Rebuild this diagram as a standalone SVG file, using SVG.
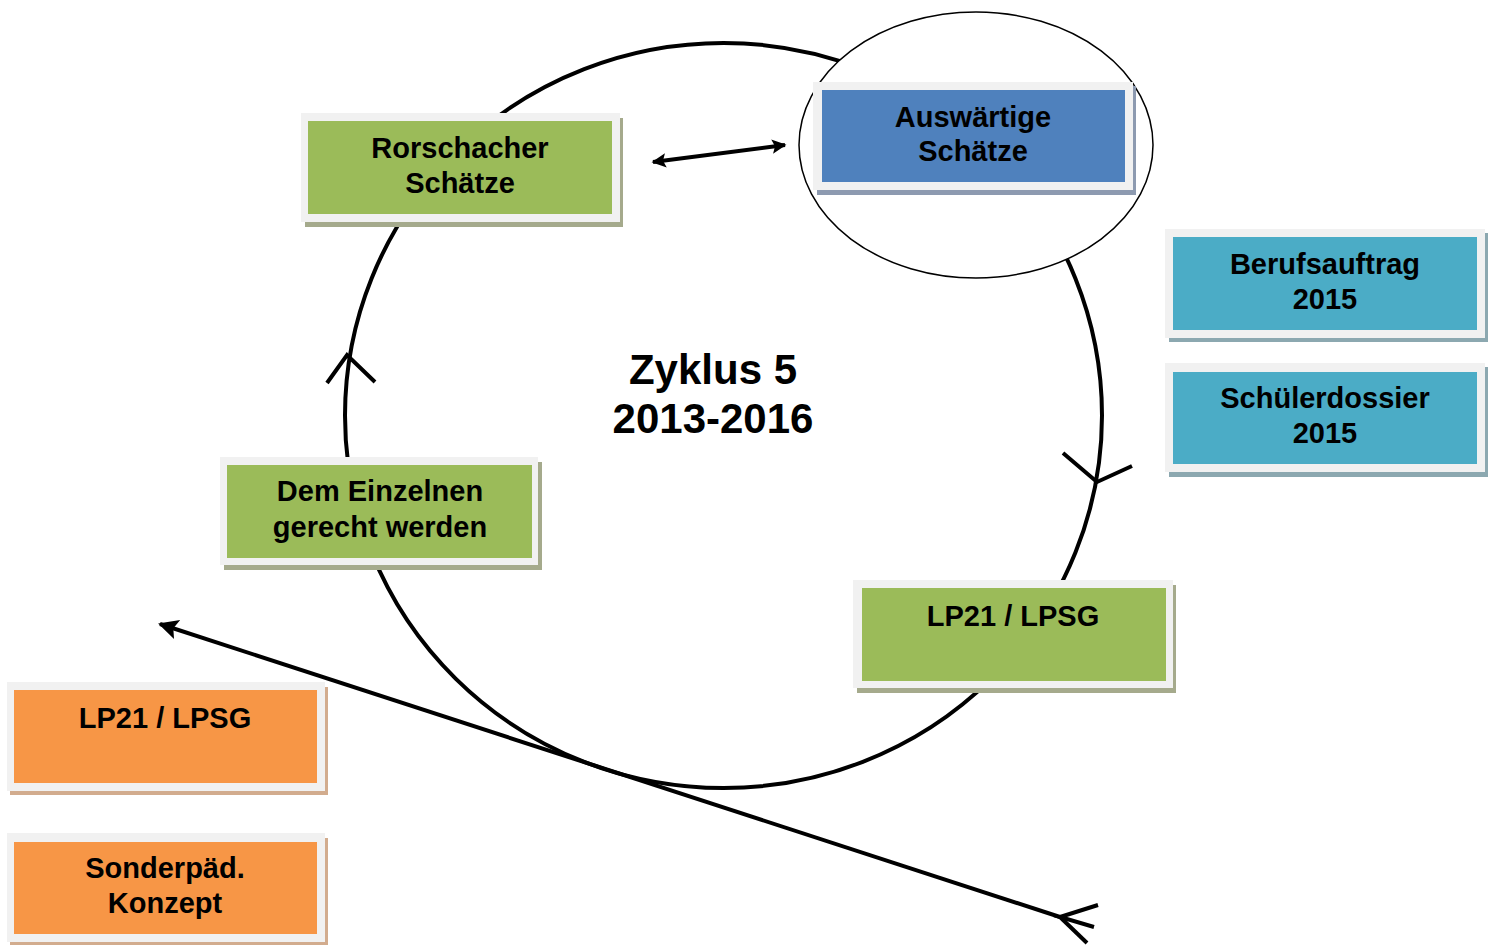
<svg xmlns="http://www.w3.org/2000/svg" width="1493" height="945" viewBox="0 0 1493 945">
  <style>
    .frame { fill: #f1f1f1; }
    .lbl { font-family: "Liberation Sans", Arial, sans-serif; font-weight: bold; font-size: 29px; fill: #000; text-anchor: middle; }
    .title { font-family: "Liberation Sans", Arial, sans-serif; font-weight: bold; font-size: 42px; fill: #000; text-anchor: middle; }
    .green { fill: #9bbb59; }
    .green-sh { fill: #a5aa8c; }
    .blue { fill: #4f81bd; }
    .blue-sh { fill: #8d9ab0; }
    .teal { fill: #4bacc6; }
    .teal-sh { fill: #8ca8b0; }
    .orange { fill: #f79646; }
    .orange-sh { fill: #d2ac8e; }
    .line { fill: none; stroke: #000; stroke-width: 4; stroke-linecap: butt; }
  </style>
  <defs>
    <marker id="head" viewBox="0 0 10 10" refX="9" refY="5" markerWidth="4" markerHeight="3.6" orient="auto-start-reverse" markerUnits="strokeWidth">
      <path d="M0,0 L10,5 L0,10 L2,5 z" fill="#000"/>
    </marker>
    <marker id="bighead" viewBox="0 0 10 10" refX="9" refY="5" markerWidth="5" markerHeight="5.8" orient="auto" markerUnits="strokeWidth">
      <path d="M0,0 L10,5 L0,10 L2,5 z" fill="#000"/>
    </marker>
  </defs>

  <rect width="1493" height="945" fill="#fff"/>

  <!-- cycle ring -->
  <g id="cycle">
    <ellipse cx="723.5" cy="415.5" rx="378.5" ry="372.5" class="line"/>
    <polyline points="327,383 347,355 375,382" class="line"/>
    <polyline points="1063,453 1097,482 1132,466" class="line"/>
  </g>

  <!-- ring around the external node -->
  <g id="halo">
    <ellipse cx="976" cy="145" rx="177" ry="133" fill="#fff" stroke="#000" stroke-width="1.5"/>
  </g>

  <g id="center-title">
    <text x="713" y="384" class="title">Zyklus 5</text>
    <text x="713" y="433" class="title">2013-2016</text>
  </g>

  <!-- nodes -->
  <g id="rorschacher">
    <rect x="305" y="118" width="318" height="109" class="green-sh"/>
    <rect x="301" y="113" width="319" height="109" class="frame"/>
    <rect x="308" y="121" width="304" height="93" class="green"/>
    <text x="460" y="158" class="lbl">Rorschacher</text>
    <text x="460" y="193" class="lbl">Schätze</text>
  </g>

  <g id="auswaertige">
    <rect x="817" y="86" width="319" height="109" class="blue-sh"/>
    <rect x="813" y="82" width="320" height="108" class="frame"/>
    <rect x="822" y="90" width="303" height="92" class="blue"/>
    <text x="973" y="127" class="lbl">Auswärtige</text>
    <text x="973" y="161" class="lbl">Schätze</text>
  </g>

  <g id="berufsauftrag">
    <rect x="1169" y="233" width="319" height="109" class="teal-sh"/>
    <rect x="1165" y="229" width="320" height="109" class="frame"/>
    <rect x="1173" y="237" width="304" height="93" class="teal"/>
    <text x="1325" y="274" class="lbl">Berufsauftrag</text>
    <text x="1325" y="309" class="lbl">2015</text>
  </g>

  <g id="schuelerdossier">
    <rect x="1169" y="367" width="319" height="110" class="teal-sh"/>
    <rect x="1165" y="363" width="320" height="109" class="frame"/>
    <rect x="1173" y="372" width="304" height="92" class="teal"/>
    <text x="1325" y="408" class="lbl">Schülerdossier</text>
    <text x="1325" y="443" class="lbl">2015</text>
  </g>

  <g id="einzelnen">
    <rect x="224" y="462" width="318" height="108" class="green-sh"/>
    <rect x="220" y="457" width="318" height="108" class="frame"/>
    <rect x="227" y="465" width="305" height="93" class="green"/>
    <text x="380" y="501" class="lbl">Dem Einzelnen</text>
    <text x="380" y="537" class="lbl">gerecht werden</text>
  </g>

  <g id="lp21-green">
    <rect x="857" y="585" width="319" height="108" class="green-sh"/>
    <rect x="853" y="580" width="320" height="108" class="frame"/>
    <rect x="862" y="588" width="304" height="93" class="green"/>
    <text x="1013" y="626" class="lbl">LP21 / LPSG</text>
  </g>

  <g id="lp21-orange">
    <rect x="10" y="687" width="318" height="108" class="orange-sh"/>
    <rect x="7" y="682" width="318" height="109" class="frame"/>
    <rect x="14" y="690" width="303" height="93" class="orange"/>
    <text x="165" y="728" class="lbl">LP21 / LPSG</text>
  </g>

  <g id="sonderpaed">
    <rect x="10" y="838" width="318" height="107" class="orange-sh"/>
    <rect x="7" y="833" width="318" height="109" class="frame"/>
    <rect x="14" y="842" width="303" height="92" class="orange"/>
    <text x="165" y="878" class="lbl">Sonderpäd.</text>
    <text x="165" y="913" class="lbl">Konzept</text>
  </g>

  <!-- connectors -->
  <g id="connectors">
    <line x1="653" y1="162" x2="785" y2="145" class="line" marker-start="url(#head)" marker-end="url(#head)"/>
    <line x1="1060" y1="917" x2="160" y2="624" class="line" marker-end="url(#bighead)"/>
    <polyline points="1098,905 1060,917 1094,927" class="line"/>
    <line x1="1060" y1="917" x2="1087" y2="943" class="line"/>
  </g>
</svg>
